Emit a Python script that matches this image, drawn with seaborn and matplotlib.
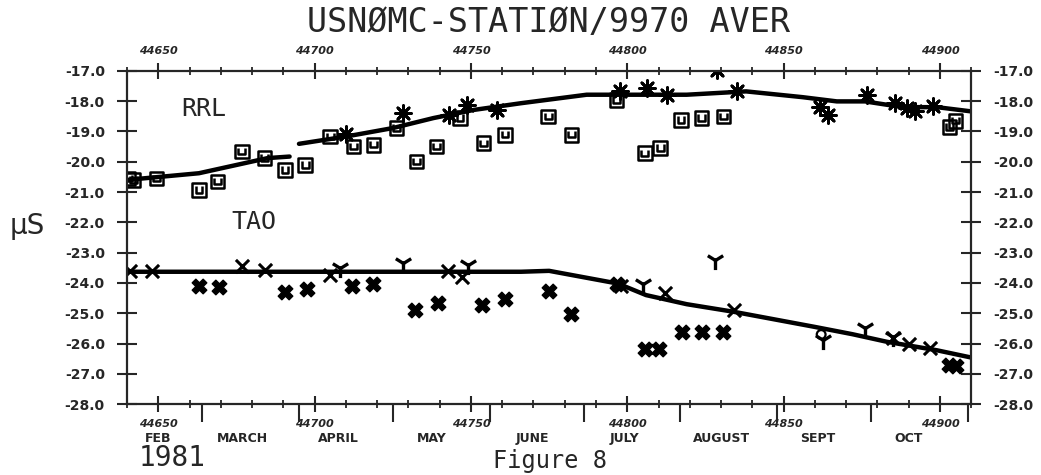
import numpy as np
import pandas as pd
import seaborn as sns
import matplotlib.pyplot as plt
from matplotlib.path import Path
from matplotlib.ticker import MultipleLocator, FormatStrFormatter

# ---- data (MJD days, microseconds) ----
# RRL smoothed curve (two pieces, there is a small gap near 44693)
rrl_line_x = [44640, 44663, 44685, 44692, 44695, 44710, 44725, 44738, 44751, 44766,
              44787, 44801, 44819, 44838, 44856, 44867, 44876, 44888, 44899, 44910]
rrl_line_y = [-20.60, -20.38, -19.88, -19.83, -19.41, -19.17, -18.89, -18.56, -18.29, -18.07,
              -17.79, -17.79, -17.79, -17.68, -17.87, -18.01, -18.01, -18.20, -18.20, -18.34]
rrl_line_seg = [0, 0, 0, 0, 1, 1, 1, 1, 1, 1, 1, 1, 1, 1, 1, 1, 1, 1, 1, 1]

# RRL boxed points
rrl_box_x = [44640.5, 44642, 44649.5, 44663, 44669, 44676.7, 44684, 44690.5, 44697, 44705,
             44712.4, 44718.8, 44726.2, 44732.6, 44739, 44746.5, 44754, 44760.9, 44774.7,
             44782.2, 44796.6, 44805.6, 44810.5, 44817.2, 44823.8, 44830.7, 44903, 44905]
rrl_box_y = [-20.55, -20.6, -20.55, -20.93, -20.66, -19.67, -19.88, -20.27, -20.11, -19.17,
             -19.50, -19.44, -18.89, -19.99, -19.50, -18.56, -19.39, -19.11, -18.51,
             -19.11, -17.96, -19.72, -19.55, -18.62, -18.56, -18.51, -18.85, -18.65]

# RRL asterisks
rrl_star_x = [44710, 44728.4, 44743, 44748.6, 44758.2, 44797.7, 44806.2, 44812.6, 44828.6,
              44835, 44861.6, 44864.3, 44876.6, 44885.6, 44889.3, 44892, 44897.8]
rrl_star_y = [-19.10, -18.40, -18.45, -18.12, -18.29, -17.68, -17.57, -17.79, -16.97,
              -17.68, -18.18, -18.45, -17.79, -18.07, -18.23, -18.34, -18.15]

# TAO smoothed curve
tao_line_x = [44640, 44700, 44766, 44775, 44797, 44806, 44819, 44834, 44860, 44872, 44883, 44899, 44910]
tao_line_y = [-23.63, -23.63, -23.63, -23.60, -24.02, -24.40, -24.70, -24.95, -25.45, -25.69,
              -25.94, -26.22, -26.46]

# TAO heavy crosses
tao_bx_x = [44663, 44669.4, 44690.5, 44697.5, 44711.9, 44718.8, 44732.1, 44739.6, 44753.4,
            44760.9, 44775, 44781.9, 44796.6, 44805.6, 44810, 44817.4, 44823.8, 44830.7,
            44903, 44905]
tao_bx_y = [-24.10, -24.12, -24.29, -24.21, -24.10, -24.05, -24.90, -24.65, -24.73,
            -24.54, -24.27, -25.01, -24.02, -26.19, -26.19, -25.63, -25.63, -25.63,
            -26.70, -26.75]

# TAO thin crosses on the curve
tao_x_x = [44641, 44648, 44676.7, 44684, 44705, 44742.6, 44747, 44798, 44812, 44834,
           44885, 44890, 44896.8]
tao_x_y = [-23.62, -23.62, -23.44, -23.58, -23.74, -23.62, -23.80, -24.10, -24.34, -24.90,
           -25.83, -26.02, -26.13]

# TAO "Y" marks
tao_y_x = [44708.1, 44728.4, 44749.1, 44805.1, 44828, 44862.7, 44876, 44885]
tao_y_y = [-23.52, -23.35, -23.41, -24.02, -23.24, -25.88, -25.50, -25.78]

# TAO small circles
tao_o_x = [44808, 44862]
tao_o_y = [-26.19, -25.70]

month_starts = [44664, 44695, 44725, 44756, 44786, 44817, 44848, 44878, 44909]
month_names = ['FEB', 'MARCH', 'APRIL', 'MAY', 'JUNE', 'JULY', 'AUGUST', 'SEPT', 'OCT']
month_label_x = [44650, 44677, 44707.5, 44737.5, 44769.5, 44799, 44830, 44861, 44890]

# box with a "U" inside, as the plotter drew it
box_u = Path([(-1, -1), (1, -1), (1, 1), (-1, 1), (-1, -1),
              (-0.5, 0.55), (-0.5, -0.4), (0.5, -0.4), (0.5, 0.55)],
             [Path.MOVETO, Path.LINETO, Path.LINETO, Path.LINETO, Path.CLOSEPOLY,
              Path.MOVETO, Path.LINETO, Path.LINETO, Path.LINETO])

sns.set_style('ticks')
plt.rcParams['font.family'] = ['DejaVu Sans']

fig = plt.figure(figsize=(10.41, 4.75), dpi=100)
ax = fig.add_axes([0.122, 0.149, 0.811, 0.702])

rrl_df = pd.DataFrame({'x': rrl_line_x, 'y': rrl_line_y, 'seg': rrl_line_seg})
sns.lineplot(data=rrl_df, x='x', y='y', units='seg', estimator=None, sort=False,
             color='k', linewidth=3.2, ax=ax, legend=False)
sns.lineplot(x=tao_line_x, y=tao_line_y, estimator=None, sort=False,
             color='k', linewidth=3.2, ax=ax)

sns.scatterplot(x=rrl_box_x, y=rrl_box_y, marker=box_u, s=95, color='k',
                facecolor='none', edgecolor='k', linewidth=1.8, ax=ax)
sns.scatterplot(x=rrl_star_x, y=rrl_star_y, marker=(8, 2, 0), s=130, color='k',
                linewidth=2.0, ax=ax)
sns.scatterplot(x=tao_bx_x, y=tao_bx_y, marker='X', s=110, color='k',
                edgecolor='k', linewidth=1.0, ax=ax)
sns.scatterplot(x=tao_x_x, y=tao_x_y, marker='x', s=90, color='k',
                linewidth=2.2, ax=ax)
sns.scatterplot(x=tao_y_x, y=tao_y_y, marker='1', s=190, color='k',
                linewidth=2.4, ax=ax)
sns.scatterplot(x=tao_o_x, y=tao_o_y, marker='o', s=40, color='k',
                facecolor='none', edgecolor='k', linewidth=1.6, ax=ax)

ax.set_xlim(44640, 44910)
ax.set_ylim(-28.0, -17.0)
ax.set_xlabel('')
ax.set_ylabel('')

for sp in ax.spines.values():
    sp.set_linewidth(1.6)
    sp.set_visible(True)

ax.yaxis.set_major_locator(MultipleLocator(1.0))
ax.yaxis.set_major_formatter(FormatStrFormatter('%.1f'))
ax.tick_params(axis='y', which='major', direction='inout', length=14, width=1.5,
               left=True, right=True, labelleft=True, labelright=True, pad=9,
               labelsize=10)
for lab in ax.get_yticklabels():
    lab.set_fontweight('bold')

ax.xaxis.set_major_locator(MultipleLocator(50))
ax.xaxis.set_minor_locator(MultipleLocator(10))
ax.xaxis.set_major_formatter(FormatStrFormatter('%d'))
ax.tick_params(axis='x', which='major', direction='inout', length=11, width=1.5,
               top=True, bottom=True, labeltop=True, labelbottom=True, pad=5,
               labelsize=8)
ax.tick_params(axis='x', which='minor', direction='inout', length=6, width=1.3,
               top=True, bottom=True)
for lab in ax.get_xticklabels():
    lab.set_fontweight('bold')
    lab.set_fontstyle('italic')

# month boundaries and names along the bottom
sec = ax.secondary_xaxis('bottom')
sec.set_xticks(month_starts)
sec.tick_params(direction='out', length=13, width=1.5, labelbottom=False)
sec.spines['bottom'].set_visible(False)

sec2 = ax.secondary_xaxis('bottom')
sec2.set_xticks(month_label_x)
sec2.set_xticklabels(month_names, fontsize=9, fontweight='bold')
sec2.tick_params(length=0, pad=20)
sec2.spines['bottom'].set_visible(False)

mono = ['DejaVu Sans Mono']
ax.text(44657.5, -18.27, 'RRL', fontsize=18, family=mono, va='center', ha='left')
ax.text(44673.5, -22.0, 'TAO', fontsize=18, family=mono, va='center', ha='left')

fig.text(0.527, 0.952, 'USNØMC-STATIØN/9970 AVER', fontsize=24, family=mono,
         ha='center', va='center')
fig.text(0.026, 0.524, 'μS', fontsize=20, ha='center', va='center')
fig.text(0.165, 0.036, '1981', fontsize=20, family=mono, ha='center', va='center')
fig.text(0.474, 0.004, 'Figure 8', fontsize=17, family=mono, ha='left', va='bottom')

fig.savefig('out.png', dpi=100)
